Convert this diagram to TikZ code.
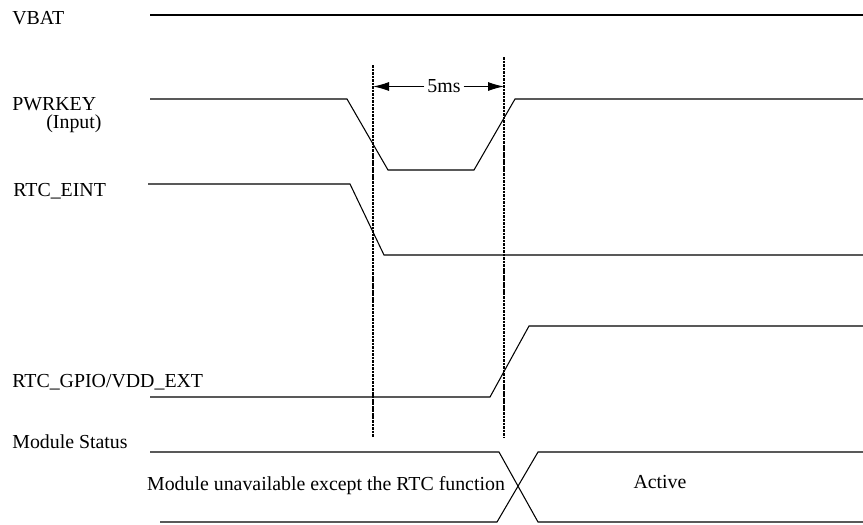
\documentclass[tikz,border=0pt]{standalone}
\usepackage{fontspec}
\setmainfont{Liberation Serif}
\usetikzlibrary{arrows.meta}
\tikzset{
  sig/.style={line width=0.6pt},
  siglbl/.style={anchor=base west,inner sep=0pt},
  guide/.style={line width=0.8pt,dash pattern=on 1.5pt off 0.5pt},
  dimarrow/.style={-{Latex[length=3.2mm,width=1.8mm]},line width=0.6pt},
}
\begin{document}
\begin{tikzpicture}[x=0.2mm,y=-0.2mm,every node/.style={font=\fontsize{11.3}{13.5}\selectfont}]
\useasboundingbox (0,0) rectangle (863,524);
% signal names
\node[siglbl] (vbat) at (12,24) {VBAT};
\node[siglbl] (pwrkey) at (12,110) {PWRKEY};
\node[siglbl] (input) at (46,128) {(Input)};
\node[siglbl] (eint) at (13,196) {RTC\_EINT};
\node[siglbl] (gpio) at (12,387) {RTC\_GPIO/VDD\_EXT};
\node[siglbl] (status) at (12,448) {Module Status};
% waveforms
\draw[sig] (150,15) -- (863,15);
\draw[sig] (150,99) -- (347,99) -- (388,170) -- (474,170) -- (515,99) -- (863,99);
\draw[sig] (148,184) -- (350,184) -- (384,255) -- (863,255);
\draw[sig] (150,397) -- (490,397) -- (529,326) -- (863,326);
\draw[sig] (150,452) -- (499,452) -- (538,522) -- (863,522);
\draw[sig] (160,522) -- (497,522) -- (538,452) -- (863,452);
\node[anchor=base] (unavail) at (326,490) {Module unavailable except the RTC function};
\node[anchor=base] (active) at (660,488) {Active};
% timing guides
\coordinate (g1top) at (373,65);
\coordinate (g1bot) at (373,437);
\coordinate (g2top) at (504,57);
\coordinate (g2bot) at (504,437);
\draw[guide] (g1top) -- (g1bot);
\draw[guide] (g2top) -- (g2bot);
\node[inner sep=1.5pt] (t5) at (444,86.5) {5ms};
\draw[dimarrow] (t5.west) -- (t5.west -| g1top);
\draw[dimarrow] (t5.east) -- (t5.east -| g2top);
\end{tikzpicture}
\end{document}
